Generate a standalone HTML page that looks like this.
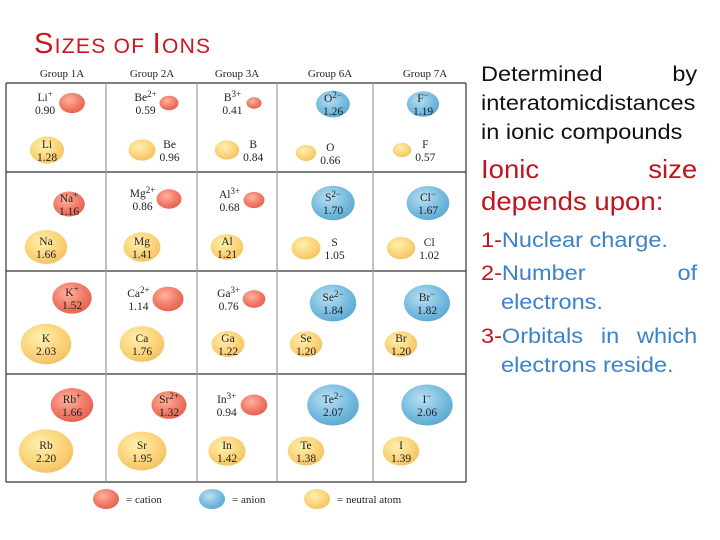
<!DOCTYPE html>
<html><head><meta charset="utf-8"><style>
body{margin:0;width:720px;height:540px;background:#fff;overflow:hidden;position:relative;font-family:"Liberation Sans",sans-serif}
.t{position:absolute;left:481px;width:193px;white-space:nowrap;transform:scaleX(1.12);transform-origin:0 0}
.j{text-align:justify;text-align-last:justify}
.blk{color:#111;font-size:21px;line-height:29px}
.red{color:#c0141e}
.blue{color:#3b82c9}
.f21{font-size:21px;line-height:29px}
.f26{font-size:26px;line-height:32px;transform:scaleX(1.06);width:204px}
</style></head><body>
<div style="position:absolute;left:34px;top:27px;line-height:34px;color:#d0141e;white-space:nowrap;letter-spacing:1.3px"><span style="font-size:29px">S</span><span style="font-size:21px">IZES OF </span><span style="font-size:29px">I</span><span style="font-size:21px">ONS</span></div>
<svg id="tbl" width="470" height="520" style="position:absolute;left:0;top:0" font-family="Liberation Serif,serif">
<defs>
<radialGradient id="gc" cx="0.4" cy="0.35" r="0.7"><stop offset="0" stop-color="#ffb3a0"/><stop offset="0.6" stop-color="#f07a66"/><stop offset="1" stop-color="#e2604e"/></radialGradient>
<radialGradient id="ga" cx="0.4" cy="0.35" r="0.7"><stop offset="0" stop-color="#b9e0f2"/><stop offset="0.6" stop-color="#79bde0"/><stop offset="1" stop-color="#5aa6d2"/></radialGradient>
<radialGradient id="gn" cx="0.4" cy="0.35" r="0.7"><stop offset="0" stop-color="#fff0b0"/><stop offset="0.6" stop-color="#fbd47a"/><stop offset="1" stop-color="#f3c060"/></radialGradient>
</defs>
<g id="grid" stroke="#333" stroke-width="1.2" fill="none"></g>
<g id="heads" font-size="11" fill="#222" text-anchor="middle"></g>
<g id="balls"></g>
<g id="legend"></g>
</svg>
<div class="t blk j" style="top:60px">Determined by</div>
<div class="t blk" style="top:89px">interatomicdistances</div>
<div class="t blk" style="top:118px">in ionic compounds</div>
<div class="t red f26 j" style="top:153px">Ionic size</div>
<div class="t red f26" style="top:185px">depends upon:</div>
<div class="t f21" style="top:226px"><span class="red">1-</span><span class="blue">Nuclear charge.</span></div>
<div class="t f21 j" style="top:259px"><span class="red">2-</span><span class="blue">Number of</span></div>
<div class="t blue f21" style="top:288px;left:501px">electrons.</div>
<div class="t f21 j" style="top:322px"><span class="red">3-</span><span class="blue">Orbitals in which</span></div>
<div class="t blue f21" style="top:351px;left:501px">electrons reside.</div>
<script>
const groups=["Group 1A","Group 2A","Group 3A","Group 6A","Group 7A"];
const groupX=[62,152,237,330,425];
const symbols=["Li+","Be2+","B3+","O2−","F−","Li","Be","B","O","F",
"Na+","Mg2+","Al3+","S2−","Cl−","Na","Mg","Al","S","Cl",
"K+","Ca2+","Ga3+","Se2−","Br−","K","Ca","Ga","Se","Br",
"Rb+","Sr2+","In3+","Te2−","I−","Rb","Sr","In","Te","I"];
const radii=[0.90,0.59,0.41,1.26,1.19,1.28,0.96,0.84,0.66,0.57,
1.16,0.86,0.68,1.70,1.67,1.66,1.41,1.21,1.05,1.02,
1.52,1.14,0.76,1.84,1.82,2.03,1.76,1.22,1.20,1.20,
1.66,1.32,0.94,2.07,2.06,2.20,1.95,1.42,1.38,1.39];
const kinds=["c","c","c","a","a","n","n","n","n","n","c","c","c","a","a","n","n","n","n","n",
"c","c","c","a","a","n","n","n","n","n","c","c","c","a","a","n","n","n","n","n"];
const labelMode=["L","L","L","i","i","i","R","R","R","R","i","L","L","i","i","i","i","i","R","R",
"i","L","L","i","i","i","i","i","i","i","i","i","L","i","i","i","i","i","i","i"];
const centers=[[72,103],[169,103],[254,103],[333,104],[423,104],[47,150],[142,150],[227,150],[306,153],[402,150],
[69,204],[169,199],[254,200],[333,203],[428,203],[46,247],[142,247],[227,247],[306,248],[401,248],
[72,298],[168,299],[254,299],[333,303],[427,303],[46,344],[142,344],[228,344],[306,344],[401,344],
[72,405],[169,405],[254,405],[333,405],[427,405],[46,451],[142,451],[227,451],[306,451],[401,451]];
const NS="http://www.w3.org/2000/svg";
function mk(t,a,p){const e=document.createElementNS(NS,t);for(const k in a)e.setAttribute(k,a[k]);p.appendChild(e);return e;}
const grid=document.getElementById('grid');
[83,172,271,374,482].forEach(y=>{const l=mk('line',{x1:6,x2:466,y1:y,y2:y},grid);});
[6,106,197,277,373,466].forEach(x=>{const l=mk('line',{x1:x,x2:x,y1:83,y2:482,stroke:(x==6||x==466)?'#333':'#999'},grid);});
const heads=document.getElementById('heads');
groups.forEach((g,i)=>{const t=mk('text',{x:groupX[i],y:77},heads);t.textContent=g;});
const balls=document.getElementById('balls');
const fills={c:'url(#gc)',a:'url(#ga)',n:'url(#gn)'};
function label(g,sym,val,x,y){
  const m=sym.match(/^([A-Z][a-z]?)(.*)$/);
  const t=mk('text',{x:x,y:y-2,'text-anchor':'middle','font-size':11.5,fill:'#222'},g);
  t.textContent=m[1];
  if(m[2]){const s=mk('tspan',{dy:-4,'font-size':9},t);s.textContent=m[2];}
  const v=mk('text',{x:x,y:y+11,'text-anchor':'middle','font-size':11.5,fill:'#222'},g);v.textContent=val.toFixed(2);
}
symbols.forEach((s,i)=>{
  const g=mk('g',{},balls);
  
  
  const [cx,cy]=centers[i];const rx=3+11*radii[i],ry=2+9*radii[i];
  mk('ellipse',{cx:cx,cy:cy,rx:rx,ry:ry,fill:fills[kinds[i]]},g);
  let lx=cx;if(labelMode[i]=='L')lx=cx-rx-14;if(labelMode[i]=='R')lx=cx+rx+14;
  label(g,s,radii[i],lx,cy);
});
const leg=document.getElementById('legend');
const legItems=[["c","= cation",106],["a","= anion",212],["n","= neutral atom",317]];
legItems.forEach(it=>{const g=mk('g',{},leg);
mk('ellipse',{cx:it[2],cy:499,rx:13,ry:10,fill:fills[it[0]]},g);
const t=mk('text',{x:it[2]+20,y:503,'font-size':11,fill:'#222'},g);t.textContent=it[1];});
</script>
</body></html>
